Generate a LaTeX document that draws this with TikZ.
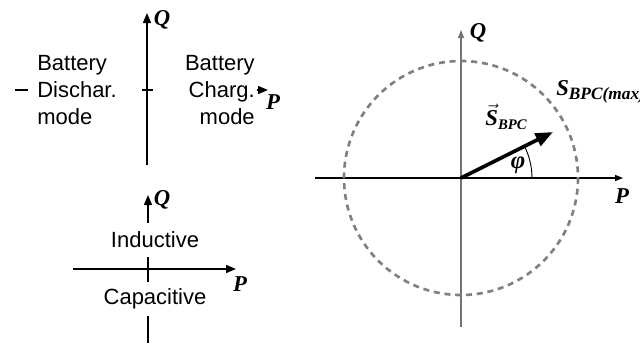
\documentclass[tikz,border=0pt]{standalone}
\usepackage{fontspec}
\setmainfont{Liberation Sans}
\newfontfamily\serifbi{Liberation Serif}
\usetikzlibrary{arrows.meta,positioning,calc}

\begin{document}
\begin{tikzpicture}[x=0.75pt,y=-0.75pt,
    axis/.style={line width=1.1pt,-{Triangle[length=7.5pt,width=6pt]}},
    modetxt/.style={fill=white,font=\fontsize{16.5}{20}\selectfont},
    pqlbl/.style={font=\fontsize{17}{20}\selectfont\serifbi\bfseries\itshape,inner sep=0pt}]
    \useasboundingbox (0,0) rectangle (640,347);
    % battery modes
    \coordinate (bl) at (15,90);
    \coordinate (br) at (268,90);
    \coordinate (bd) at (147,165);
    \coordinate (bu) at (147,13);
    \draw[axis] (bd) -- (bu);
    \draw[axis] (bl) -- (br);
    \node[modetxt,anchor=west,text width=72pt,inner xsep=6.75pt,align=left]
      (dis) at (28,90) {Battery\\Dischar.\\mode};
    \node[modetxt,anchor=east,text width=75pt,inner xsep=1.5pt,align=right]
      (chg) at (257,90) {Battery\\Charg.\\mode};
    \node[pqlbl] (q1) at (162,20) {Q};
    \node[pqlbl] (p1) at (273,102) {P};
    % inductive / capacitive
    \coordinate (cl) at (73,269);
    \coordinate (cr) at (236,269);
    \coordinate (cd) at (148,343);
    \coordinate (cu) at (148,195);
    \draw[axis] (cd) -- (cu);
    \draw[axis] (cl) -- (cr);
    \node[modetxt,minimum height=26pt,inner ysep=0pt] (ind) at (155,240) {Inductive};
    \node[modetxt,minimum height=26pt,inner ysep=0pt] (cap) at (155,299) {Capacitive};
    \node[pqlbl] (q2) at (162,200) {Q};
    \node[pqlbl] (p2) at (240,284) {P};
    % PQ plane of the BPC
    \coordinate (o) at (461,178);
    \coordinate (pl) at (315,178);
    \coordinate (pr) at (623,178);
    \coordinate (qd) at (461,327);
    \coordinate (qu) at (461,30);
    \coordinate (s) at (553,132);
    \draw[gray!90!black,line width=0.8pt,-{Triangle[length=6pt,width=4.5pt]}] (qd) -- (qu);
    \draw[line width=0.8pt,-{Triangle[length=6pt,width=4.5pt]}] (pl) -- (pr);
    \draw[gray,line width=2pt,dash pattern=on 4.5pt off 3.6pt] (o) circle[radius=117];
    \draw[line width=2.8pt,-{Triangle[length=13pt,width=10pt]}] (o) -- (s);
    \draw[line width=0.7pt] (o) ++(71,0) arc[start angle=0,end angle=-26.6,radius=71];
    \node[pqlbl] (q3) at (478,33) {Q};
    \node[pqlbl] (p3) at (622,196) {P};
    \node[pqlbl,font=\fontsize{18.5}{22}\selectfont\serifbi\bfseries\itshape] (phi) at (518,165) {φ};
    \node[pqlbl] (svec) at (506,117)
      {$\vec{\hbox{\serifbi\bfseries\itshape S}}$\raisebox{-3pt}{\fontsize{11}{12}\selectfont BPC}};
    \node[pqlbl,anchor=base west] (smax) at (556,95)
      {S\raisebox{-3pt}{\fontsize{13}{14}\selectfont BPC(max)}};
\end{tikzpicture}
\end{document}
